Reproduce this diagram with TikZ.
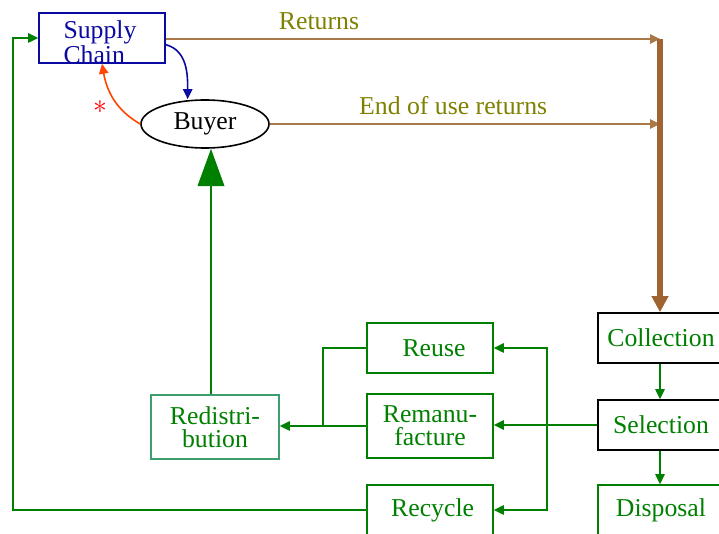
\documentclass[tikz,border=0pt]{standalone}
\usepackage{fontspec}
\setmainfont{Liberation Serif}
\usetikzlibrary{arrows.meta,shapes.geometric}

\definecolor{scblue}{RGB}{10,10,160}
\definecolor{retbrown}{RGB}{170,120,70}
\definecolor{colbrown}{RGB}{160,100,50}
\definecolor{lbl}{RGB}{128,128,0}
\definecolor{flow}{RGB}{0,128,0}
\definecolor{redis}{RGB}{60,160,110}
\definecolor{feedback}{RGB}{255,70,0}

\begin{document}
\begin{tikzpicture}[x=0.75pt,y=-0.75pt,
    every node/.style={font=\fontsize{19.3}{17.5}\selectfont, inner sep=0pt},
    box/.style={draw=flow, line width=1.2pt, text=flow, align=center,
      minimum width=94.5pt, minimum height=37.5pt},
    tallbox/.style={box, minimum height=48pt},
    tip/.style={-{Triangle[length=7.5pt,width=7pt]}},
    flowline/.style={flow, line width=1.2pt, tip},
    retline/.style={retbrown, line width=1.2pt, tip}]
  \useasboundingbox (0,0) rectangle (719,534);

  \node[draw=scblue, line width=1.2pt, minimum width=94.5pt, minimum height=37.5pt] (sc) at (102,38) {};
  \node[text=scblue, align=left, font=\fontsize{19.3}{16.5}\selectfont] (sctext) at (100,42) {Supply\\Chain};
  \node[draw, ellipse, line width=1.2pt, minimum width=96pt, minimum height=36pt] (buyer) at (205,124) {Buyer};

  \node[box, draw=black] (coll) at (661,338) {Collection};
  \node[box, draw=black] (sel) at (661,425) {Selection};
  \node[box] (disp) at (661,510) {Disposal};

  \node[box] (reuse) at (430,348) {\hspace*{6pt}Reuse};
  \node[tallbox] (reman) at (430,426) {Remanu-\\facture};
  \node[box] (recyc) at (430,510) {\hspace*{4pt}Recycle};
  \node[tallbox, draw=redis, minimum width=96pt] (redist) at (215,427) {Redistri-\\bution};

  \coordinate (top) at (660,39);
  \coordinate (split) at (547,426);
  \coordinate (join) at (323,426);
  \coordinate (lft) at (13,38);

  % returns towards collection
  \draw[retline] (sc.east |- top) -- node[pos=0.31, above=6pt, text=lbl]{Returns} (top);
  \draw[retline] (buyer.east) -- node[pos=0.47, above=6pt, text=lbl]{End of use returns} (buyer.east -| top);
  \draw[colbrown, line width=4pt, -{Triangle[length=12pt,width=12pt]}] (top) -- (top |- coll.north);

  % supply chain and buyer
  \draw[scblue, line width=1.2pt, tip] ([yshift=-5pt]sc.east) to[out=-15,in=90] ([xshift=-13pt]buyer.north);
  \draw (buyer.west) edge[feedback, line width=1.2pt, tip, out=150, in=-80]
    node[pos=0.35, left=9pt, text=red]{\huge$\ast$} (sc.south);

  % processing chain
  \draw[flowline] (top |- coll.south) -- (top |- sel.north);
  \draw[flowline] (top |- sel.south) -- (top |- disp.north);
  \draw[flowline, line width=1.6pt] (sel.west) -- (sel.west -| reman.east);
  \draw[flowline] (split) |- (reuse.east);
  \draw[flowline] (split) |- (recyc.east);

  % back to the buyer
  \draw[flowline] (reman.west) -- (reman.west -| redist.east);
  \draw[flow, line width=1.2pt] (reuse.west) -| (join);
  \draw[flow, line width=1.2pt, -{Triangle[length=28pt,width=20pt]}]
    ([xshift=-3pt]redist.north) -- ([xshift=-3pt]redist.north |- buyer.south);
  \draw[flowline] (recyc.west) -| (lft) -- (sc.west);
\end{tikzpicture}
\end{document}
